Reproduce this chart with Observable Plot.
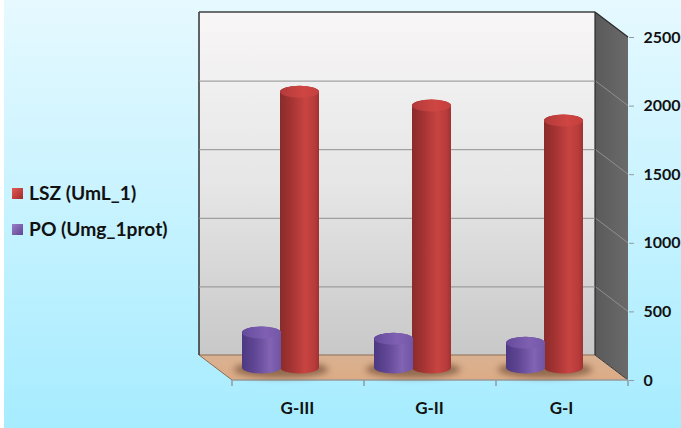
<!DOCTYPE html>
<html>
<head>
<meta charset="utf-8">
<script src="https://cdn.jsdelivr.net/npm/d3@7"></script>
<script src="https://cdn.jsdelivr.net/npm/@observablehq/plot@0.6"></script>
<style>
  html, body { margin: 0; padding: 0; background: #fff; }
  #chart { position: relative; width: 681px; height: 428px; overflow: hidden; background: #fff; }
  #bg { position: absolute; left: 4px; top: 0; width: 677px; height: 428px;
        background: linear-gradient(to bottom, #e6f9ff 0%, #a6ecff 100%); }
  #chart svg { position: absolute; left: 0; top: 0; background: transparent; max-width: none; }
  .legend { position: absolute; left: 12px; font: bold 19.2px Lato, sans-serif; color: #111; display: flex; align-items: center; gap: 6px; white-space: nowrap; line-height: 22px; }
  .legend i { display: block; width: 11px; height: 11px; }
</style>
</head>
<body>
<div id="chart"><div id="bg"></div></div>
<script>
const categories = ["G-III", "G-II", "G-I"];
const lszValues = [2010, 1910, 1800];
const poValues = [255, 210, 180];
const yTicks = [0, 500, 1000, 1500, 2000, 2500];
const legendNames = ["LSZ (UmL_1)", "PO (Umg_1prot)"];

const lsz = categories.map((c, i) => ({c, v: lszValues[i]}));
const po = categories.map((c, i) => ({c, v: poValues[i]}));

const depthX = -33, depthY = -25;
const midX = -17, midY = -12.5;
const halfBar = 19.5, ry = 6;

function stops(id, spec, vertical) {
  return `<linearGradient id="${id}" x1="0" y1="0" x2="${vertical ? 0 : 1}" y2="${vertical ? 1 : 0}">` +
    spec.map(([o, c]) => `<stop offset="${o}" stop-color="${c}"/>`).join("") + `</linearGradient>`;
}

function scene(index, scales, values, dim) {
  const L = dim.marginLeft, R = dim.width - dim.marginRight;
  const T = scales.y(2500), B = scales.y(0);
  const g = d3.create("svg:g");
  g.append("defs").html(
    stops("wall", [[0, "#f8f6f6"], [0.5, "#e6e6e6"], [1, "#c8c8c8"]], true) +
    stops("side", [[0, "#5a5a5a"], [1, "#6a6a6a"]], false) +
    stops("floor", [[0, "#d9b292"], [1, "#dcab85"]], true) +
    stops("lszBody", [[0, "#8a2b2b"], [0.3, "#a53433"], [0.65, "#c84441"], [0.88, "#b83c3a"], [1, "#a03232"]], false) +
    stops("lszCap", [[0, "#b23a3a"], [0.6, "#cf4643"], [1, "#c43f3d"]], false) +
    stops("poBody", [[0, "#4c3882"], [0.35, "#624896"], [0.72, "#8263b4"], [1, "#7054a4"]], false) +
    stops("poCap", [[0, "#654b9c"], [0.6, "#7f60b2"], [1, "#7557a8"]], false)
  );
  const poly = (pts, fill) => g.append("polygon")
    .attr("points", pts.map(p => p.join(",")).join(" "))
    .attr("fill", fill);
  poly([[L + depthX, T + depthY], [R + depthX, T + depthY], [R + depthX, B + depthY], [L + depthX, B + depthY]], "url(#wall)");
  poly([[R + depthX, T + depthY], [R, T], [R, B], [R + depthX, B + depthY]], "url(#side)");
  poly([[L + depthX, B + depthY], [R + depthX, B + depthY], [R, B], [L, B]], "url(#floor)");
  const line = (x1, y1, x2, y2, stroke, w) => g.append("line")
    .attr("x1", x1).attr("y1", y1).attr("x2", x2).attr("y2", y2)
    .attr("stroke", stroke).attr("stroke-width", w || 1);
  for (const t of yTicks.slice(1, -1)) line(R + depthX, scales.y(t) + depthY, R, scales.y(t), "#8f8f8f");
  line(L + depthX, B + depthY, R + depthX, B + depthY, "#8c6c52");
  line(L + depthX, B + depthY, L, B, "#8c6c52");
  line(R + depthX, B + depthY, R, B, "#3c3c3c");
  line(L + depthX, T + depthY, L + depthX, B + depthY, "#303030", 1.5);
  line(L + depthX, T + depthY, R + depthX, T + depthY, "#404040", 1.5);
  line(R + depthX, T + depthY, R + depthX, B + depthY, "#2c2c2c", 1.2);
  line(R + depthX, T + depthY, R, T, "#2a2a2a", 1.2);
  line(L, B, R, B, "#9a9a9a", 1.5);
  for (const x of [L, L + (R - L) / 3, L + 2 * (R - L) / 3, R]) line(x, B, x, B + 6, "#8f9aa0", 1.5);
  return g.node();
}

const inset = (132 - 2 * halfBar) / 2;
const cylinder = (rows, offset, bodyId, capId) => [
  Plot.barY(rows, {x: "c", y1: 0, y2: "v", fill: `url(#${bodyId})`, dx: midX + offset, dy: midY,
    insetLeft: inset, insetRight: inset, insetTop: -ry, insetBottom: -ry, rx: halfBar, ry}),
  Plot.barY(rows, {x: "c", y1: "v", y2: "v", fill: `url(#${capId})`, dx: midX + offset, dy: midY,
    insetLeft: inset, insetRight: inset, insetTop: -ry, insetBottom: -ry, rx: halfBar, ry})
];

const chart = Plot.plot({
  width: 681, height: 428,
  marginLeft: 232, marginRight: 53, marginTop: 37, marginBottom: 48,
  style: {background: "transparent"},
  x: {domain: categories, padding: 0, axis: null},
  y: {domain: [0, 2500], axis: null},
  marks: [
    scene,
    Plot.ruleY(yTicks.slice(1, -1), {dx: depthX, dy: depthY, stroke: "#8f8f8f", strokeWidth: 1}),
    Plot.barY(categories, {x: d => d, y1: 0, y2: 0, fill: "#5f3c28", fillOpacity: 0.6,
      dx: midX, dy: midY + 2, insetLeft: inset - 28, insetRight: inset - 28, insetTop: -8, insetBottom: -8,
      rx: 46, ry: 8, imageFilter: "blur(3px)"}),
    ...cylinder(lsz, halfBar - 1, "lszBody", "lszCap"),
    ...cylinder(po, -halfBar, "poBody", "poCap"),
    Plot.axisX({anchor: "bottom", tickSize: 0, tickPadding: 21, fontSize: 17, fontWeight: "bold", dx: -1,
      fontFamily: "Lato, sans-serif", color: "#111", label: null}),
    Plot.axisY({anchor: "right", ticks: yTicks, tickSize: 5, tickPadding: 10, fontSize: 16, fontWeight: "bold",
      fontFamily: "Lato, sans-serif", color: "#111", stroke: "#8f9aa0", label: null, tickFormat: d => String(d)})
  ]
});
const holder = document.getElementById("chart");
holder.appendChild(chart);

const colors = ["linear-gradient(135deg,#e05a55,#a52a2a)", "linear-gradient(135deg,#9a80c8,#5f4592)"];
const tops = [182, 218];
legendNames.forEach((name, i) => {
  const div = document.createElement("div");
  div.className = "legend";
  div.style.top = tops[i] + "px";
  const sw = document.createElement("i");
  sw.style.background = colors[i];
  const label = document.createElement("span");
  label.textContent = name;
  div.append(sw, label);
  holder.appendChild(div);
});
</script>
</body>
</html>
